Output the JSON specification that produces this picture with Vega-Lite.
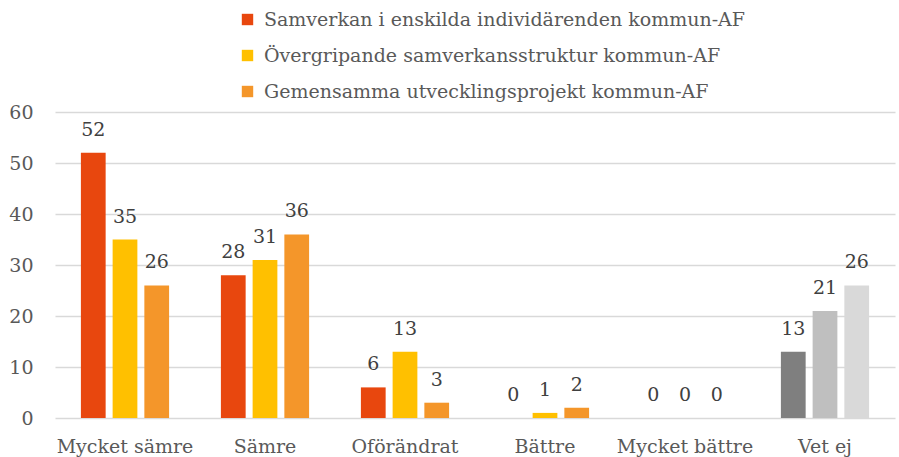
{
  "$schema": "https://vega.github.io/schema/vega-lite/v6.json",
  "width": 840,
  "height": 306,
  "autosize": {"type": "none"},
  "padding": {"left": 55, "top": 112, "right": 4, "bottom": 39},
  "background": "white",
  "config": {
    "view": {"stroke": null},
    "font": "DejaVu Serif"
  },
  "data": {
    "values": [
      {"cat": "Mycket sämre", "series": "Samverkan i enskilda individärenden kommun-AF", "key": "s1", "value": 52},
      {"cat": "Mycket sämre", "series": "Övergripande samverkansstruktur kommun-AF", "key": "s2", "value": 35},
      {"cat": "Mycket sämre", "series": "Gemensamma utvecklingsprojekt kommun-AF", "key": "s3", "value": 26},
      {"cat": "Sämre", "series": "Samverkan i enskilda individärenden kommun-AF", "key": "s1", "value": 28},
      {"cat": "Sämre", "series": "Övergripande samverkansstruktur kommun-AF", "key": "s2", "value": 31},
      {"cat": "Sämre", "series": "Gemensamma utvecklingsprojekt kommun-AF", "key": "s3", "value": 36},
      {"cat": "Oförändrat", "series": "Samverkan i enskilda individärenden kommun-AF", "key": "s1", "value": 6},
      {"cat": "Oförändrat", "series": "Övergripande samverkansstruktur kommun-AF", "key": "s2", "value": 13},
      {"cat": "Oförändrat", "series": "Gemensamma utvecklingsprojekt kommun-AF", "key": "s3", "value": 3},
      {"cat": "Bättre", "series": "Samverkan i enskilda individärenden kommun-AF", "key": "s1", "value": 0},
      {"cat": "Bättre", "series": "Övergripande samverkansstruktur kommun-AF", "key": "s2", "value": 1},
      {"cat": "Bättre", "series": "Gemensamma utvecklingsprojekt kommun-AF", "key": "s3", "value": 2},
      {"cat": "Mycket bättre", "series": "Samverkan i enskilda individärenden kommun-AF", "key": "s1", "value": 0},
      {"cat": "Mycket bättre", "series": "Övergripande samverkansstruktur kommun-AF", "key": "s2", "value": 0},
      {"cat": "Mycket bättre", "series": "Gemensamma utvecklingsprojekt kommun-AF", "key": "s3", "value": 0},
      {"cat": "Vet ej", "series": "Samverkan i enskilda individärenden kommun-AF", "key": "g1", "value": 13},
      {"cat": "Vet ej", "series": "Övergripande samverkansstruktur kommun-AF", "key": "g2", "value": 21},
      {"cat": "Vet ej", "series": "Gemensamma utvecklingsprojekt kommun-AF", "key": "g3", "value": 26}
    ]
  },
  "encoding": {
    "x": {
      "field": "cat",
      "type": "nominal",
      "sort": ["Mycket sämre", "Sämre", "Oförändrat", "Bättre", "Mycket bättre", "Vet ej"],
      "scale": {"paddingInner": 0.37, "paddingOuter": 0.185},
      "axis": {
        "title": null,
        "labelAngle": 0,
        "ticks": false,
        "domain": false,
        "labelFont": "DejaVu Serif",
        "labelFontSize": 19,
        "labelColor": "#595959",
        "labelPadding": 19
      }
    },
    "xOffset": {
      "field": "series",
      "type": "nominal",
      "sort": ["Samverkan i enskilda individärenden kommun-AF", "Övergripande samverkansstruktur kommun-AF", "Gemensamma utvecklingsprojekt kommun-AF"],
      "scale": {"paddingInner": 0.22, "paddingOuter": 0}
    },
    "y": {
      "field": "value",
      "type": "quantitative",
      "scale": {"domain": [0, 60]},
      "axis": {
        "title": null,
        "values": [0, 10, 20, 30, 40, 50, 60],
        "ticks": false,
        "domain": false,
        "gridColor": "#D9D9D9",
        "gridWidth": 1.3,
        "labelFont": "DejaVu Serif",
        "labelFontSize": 19,
        "labelColor": "#595959",
        "labelPadding": 22
      }
    }
  },
  "layer": [
    {
      "mark": {"type": "bar"},
      "encoding": {
        "color": {
          "field": "key",
          "type": "nominal",
          "scale": {
            "domain": ["s1", "s2", "s3", "g1", "g2", "g3"],
            "range": ["#E8470E", "#FFC000", "#F4962A", "#7F7F7F", "#BFBFBF", "#D9D9D9"]
          },
          "legend": null
        }
      }
    },
    {
      "mark": {"type": "point", "shape": "square", "opacity": 0},
      "encoding": {
        "fill": {
          "field": "series",
          "type": "nominal",
          "scale": {
            "domain": ["Samverkan i enskilda individärenden kommun-AF", "Övergripande samverkansstruktur kommun-AF", "Gemensamma utvecklingsprojekt kommun-AF"],
            "range": ["#E8470E", "#FFC000", "#F4962A"]
          },
          "legend": {
            "title": null,
            "orient": "none",
            "legendX": 183,
            "legendY": -102,
            "direction": "vertical",
            "symbolType": "square",
            "symbolSize": 130,
            "symbolOpacity": 1,
            "symbolStrokeWidth": 0,
            "labelFont": "DejaVu Serif",
            "labelFontSize": 19,
            "labelColor": "#595959",
            "labelOffset": 7,
            "rowPadding": 16,
            "labelLimit": 700
          }
        }
      }
    },
    {
      "mark": {"type": "text", "baseline": "alphabetic", "dy": -17, "font": "DejaVu Serif", "fontSize": 19, "color": "#404040"},
      "encoding": {
        "text": {"field": "value", "type": "quantitative"}
      }
    }
  ],
  "resolve": {"scale": {"color": "independent", "fill": "independent"}, "legend": {"color": "independent", "fill": "independent"}}
}
